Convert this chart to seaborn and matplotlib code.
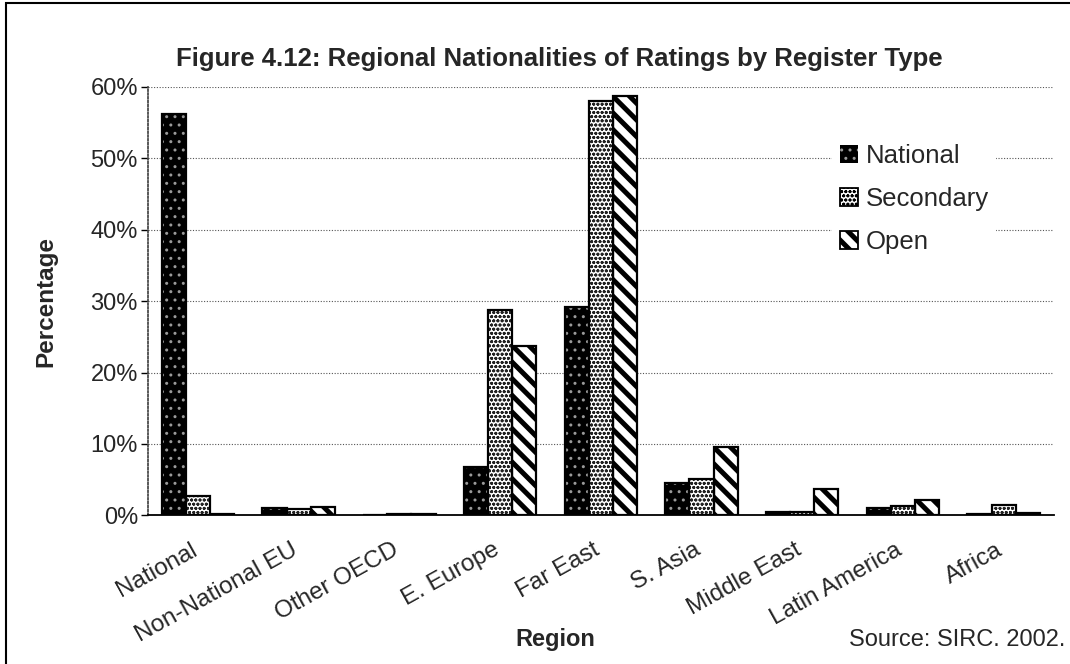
import pandas as pd
import numpy as np
import matplotlib
matplotlib.use("Agg")
import matplotlib.pyplot as plt
import matplotlib.transforms as mtransforms
import seaborn as sns
from matplotlib.patches import Rectangle, Patch

# Values (percent)
regions = ["National", "Non-National EU", "Other OECD", "E. Europe", "Far East",
           "S. Asia", "Middle East", "Latin America", "Africa"]
register_types = ["National", "Secondary", "Open"]
national = [56.2, 1.0, 0.1, 6.8, 29.2, 4.5, 0.5, 1.0, 0.2]
secondary = [2.7, 0.9, 0.2, 28.7, 58.0, 5.1, 0.4, 1.3, 1.5]
open_reg = [0.2, 1.2, 0.2, 23.7, 58.7, 9.5, 3.7, 2.1, 0.3]

df = pd.DataFrame({
    "Region": regions * 3,
    "Type": ["National"] * 9 + ["Secondary"] * 9 + ["Open"] * 9,
    "Value": national + secondary + open_reg,
})

sns.set_theme(style="white")
plt.rcParams["font.family"] = ["Liberation Sans", "DejaVu Sans"]

# facecolor, hatch colour, hatch, hatch linewidth
styles = {"National": ("black", "#9a9a9a", "..", 1.0),
          "Secondary": ("white", "#222222", "oooo", 0.9),
          "Open": ("white", "black", "\\\\", 3.6)}


def texture(p, name):
    fc, hc, h, lw = styles[name]
    p.set_facecolor(fc)
    p.set_edgecolor(hc)
    p.set_hatch(h)
    if hasattr(p, "set_hatch_linewidth"):
        p.set_hatch_linewidth(lw)
    else:
        p._hatch_linewidth = lw


fig = plt.figure(figsize=(10.7, 6.64), dpi=100)
ax = fig.add_axes([0.138, 0.224, 0.847, 0.645])

sns.barplot(data=df, x="Region", y="Value", hue="Type", hue_order=register_types,
            order=regions, width=0.72, palette=["black", "white", "white"],
            saturation=1, edgecolor="black", linewidth=1.5, ax=ax, legend=False)

for cont, name in zip(ax.containers, register_types):
    for bar in cont:
        texture(bar, name)
        bar.set_linewidth(0)
        x, y = bar.get_xy()
        ax.add_patch(Rectangle((x, y), bar.get_width(), bar.get_height(),
                               fill=False, edgecolor="black", linewidth=1.6, zorder=3))

ax.set_ylim(0, 60)
ax.set_xlim(-0.5, len(regions) - 0.5)
ax.set_yticks(np.arange(0, 61, 10))
ax.set_yticklabels([f"{v}%" for v in range(0, 61, 10)], fontsize=17)
ax.yaxis.grid(True, linestyle=(0, (1, 1.5)), color="#555555", linewidth=0.8)
ax.set_axisbelow(True)

ax.set_xticks(np.arange(len(regions)))
ax.set_xticklabels(regions, rotation=29, ha="right", rotation_mode="anchor", fontsize=17.5)
ax.tick_params(axis="x", length=0, pad=17)
shift = mtransforms.ScaledTranslation(-8 / 100, 0, fig.dpi_scale_trans)
for lab in ax.get_xticklabels():
    lab.set_transform(lab.get_transform() + shift)
# category separator ticks
ax.set_xticks(np.arange(-0.5, len(regions), 1), minor=True)
ax.tick_params(axis="x", which="minor", length=8, width=1.2, direction="out", color="black")
ax.tick_params(axis="y", length=5, width=1, direction="out", color="black", left=True, pad=2)

for s in ["top", "right"]:
    ax.spines[s].set_visible(False)
ax.spines["left"].set_linestyle((0, (1, 1.2)))
ax.spines["left"].set_color("#444444")
ax.spines["bottom"].set_color("black")
ax.spines["bottom"].set_linewidth(1.3)

ax.set_ylabel("Percentage", fontsize=17.5, fontweight="bold", labelpad=24)
ax.set_xlabel("")
fig.text(0.519, 0.027, "Region", fontsize=17, fontweight="bold", ha="center")
fig.text(0.793, 0.027, "Source: SIRC. 2002.", fontsize=17, ha="left")
fig.text(0.523, 0.9, "Figure 4.12: Regional Nationalities of Ratings by Register Type",
         fontsize=18.5, fontweight="bold", ha="center")

handles = []
for name in register_types:
    hp = Patch(label=name)
    texture(hp, name)
    handles.append(hp)
leg = ax.legend(handles=handles, loc="upper left", bbox_to_anchor=(0.741, 0.915), frameon=True,
                fontsize=18.5, handlelength=0.7, handleheight=0.7, handletextpad=0.3,
                labelspacing=0.75, borderpad=0.3, framealpha=1, fancybox=False)
leg.get_frame().set_facecolor("white")
leg.get_frame().set_edgecolor("none")
for hp, name in zip(leg.legend_handles, register_types):
    texture(hp, name)
    if name == "National":
        hp.set_linewidth(0)
    else:
        hp.set_edgecolor("black")
        hp.set_linewidth(1.3)

fig.patches.append(Rectangle((0.006, -0.01), 1.2, 1.005, transform=fig.transFigure,
                             fill=False, edgecolor="black", linewidth=1.5))

fig.savefig("out.png", dpi=100, facecolor="white")
